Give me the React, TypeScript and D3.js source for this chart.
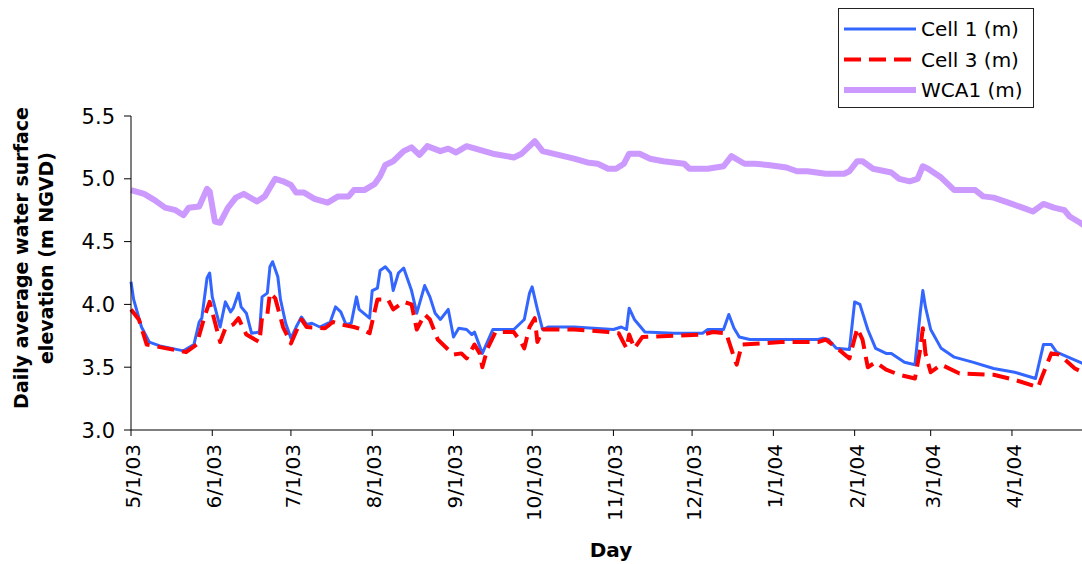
import * as d3 from "d3";

type Pt = [string, number];

// Cell 1 (m)
const cell1: Pt[] = [
  ["2003-05-01", 4.18], ["2003-05-02", 4.04], ["2003-05-05", 3.82], ["2003-05-08", 3.7],
  ["2003-05-12", 3.67], ["2003-05-21", 3.63], ["2003-05-25", 3.68], ["2003-05-27", 3.86],
  ["2003-05-28", 3.89], ["2003-05-30", 4.21], ["2003-05-31", 4.25], ["2003-06-01", 4.06],
  ["2003-06-04", 3.82], ["2003-06-06", 4.02], ["2003-06-08", 3.94], ["2003-06-09", 3.97],
  ["2003-06-11", 4.09], ["2003-06-12", 3.98], ["2003-06-14", 3.93], ["2003-06-16", 3.77],
  ["2003-06-19", 3.78], ["2003-06-20", 4.06], ["2003-06-22", 4.09], ["2003-06-23", 4.3],
  ["2003-06-24", 4.34], ["2003-06-26", 4.22], ["2003-06-27", 4.04], ["2003-06-29", 3.85],
  ["2003-07-01", 3.73], ["2003-07-03", 3.82], ["2003-07-05", 3.9], ["2003-07-07", 3.84],
  ["2003-07-09", 3.85], ["2003-07-12", 3.82], ["2003-07-16", 3.86], ["2003-07-18", 3.98],
  ["2003-07-20", 3.94], ["2003-07-22", 3.84], ["2003-07-24", 3.85], ["2003-07-26", 4.06],
  ["2003-07-27", 3.96], ["2003-07-31", 3.89], ["2003-08-01", 4.11], ["2003-08-03", 4.13],
  ["2003-08-04", 4.27], ["2003-08-06", 4.3], ["2003-08-08", 4.25], ["2003-08-09", 4.11],
  ["2003-08-11", 4.25], ["2003-08-13", 4.29], ["2003-08-16", 4.11], ["2003-08-18", 3.93],
  ["2003-08-21", 4.15], ["2003-08-23", 4.06], ["2003-08-25", 3.93], ["2003-08-27", 3.88],
  ["2003-08-30", 3.96], ["2003-09-01", 3.74], ["2003-09-03", 3.81], ["2003-09-06", 3.8],
  ["2003-09-08", 3.76], ["2003-09-09", 3.78], ["2003-09-12", 3.61], ["2003-09-16", 3.8],
  ["2003-09-24", 3.8], ["2003-09-26", 3.84], ["2003-09-28", 3.88], ["2003-09-30", 4.09],
  ["2003-10-01", 4.14], ["2003-10-03", 3.96], ["2003-10-05", 3.8], ["2003-10-07", 3.82],
  ["2003-10-17", 3.82], ["2003-11-01", 3.8], ["2003-11-04", 3.82], ["2003-11-06", 3.8],
  ["2003-11-07", 3.97], ["2003-11-09", 3.88], ["2003-11-13", 3.78], ["2003-11-24", 3.77],
  ["2003-12-05", 3.77], ["2003-12-07", 3.8], ["2003-12-13", 3.8], ["2003-12-15", 3.92],
  ["2003-12-17", 3.81], ["2003-12-19", 3.74], ["2003-12-23", 3.72], ["2004-01-04", 3.72],
  ["2004-01-18", 3.72], ["2004-01-20", 3.73], ["2004-01-22", 3.72], ["2004-01-25", 3.65],
  ["2004-01-30", 3.64], ["2004-02-01", 4.02], ["2004-02-03", 4.0], ["2004-02-06", 3.8],
  ["2004-02-09", 3.65], ["2004-02-13", 3.61], ["2004-02-15", 3.61], ["2004-02-20", 3.54],
  ["2004-02-24", 3.52], ["2004-02-26", 3.93], ["2004-02-27", 4.11], ["2004-02-28", 3.98],
  ["2004-03-01", 3.8], ["2004-03-05", 3.65], ["2004-03-10", 3.58], ["2004-03-17", 3.54],
  ["2004-03-25", 3.49], ["2004-04-02", 3.46], ["2004-04-10", 3.41], ["2004-04-13", 3.68],
  ["2004-04-16", 3.68], ["2004-04-18", 3.62], ["2004-04-28", 3.53],
];

// Cell 3 (m)
const cell3: Pt[] = [
  ["2003-05-01", 3.96], ["2003-05-04", 3.88], ["2003-05-07", 3.68], ["2003-05-12", 3.66],
  ["2003-05-22", 3.62], ["2003-05-26", 3.68], ["2003-05-29", 3.9], ["2003-05-31", 4.02],
  ["2003-06-01", 3.94], ["2003-06-04", 3.7], ["2003-06-06", 3.81], ["2003-06-09", 3.84],
  ["2003-06-11", 3.89], ["2003-06-14", 3.76], ["2003-06-19", 3.7], ["2003-06-20", 3.9],
  ["2003-06-22", 3.92], ["2003-06-23", 4.09], ["2003-06-25", 4.05], ["2003-06-28", 3.82],
  ["2003-07-01", 3.69], ["2003-07-05", 3.88], ["2003-07-07", 3.82], ["2003-07-14", 3.81],
  ["2003-07-17", 3.86], ["2003-07-20", 3.84], ["2003-07-25", 3.82], ["2003-07-28", 3.8],
  ["2003-07-31", 3.77], ["2003-08-03", 4.04], ["2003-08-07", 4.04], ["2003-08-09", 3.96],
  ["2003-08-13", 4.02], ["2003-08-16", 4.0], ["2003-08-18", 3.8], ["2003-08-21", 3.92],
  ["2003-08-23", 3.88], ["2003-08-26", 3.72], ["2003-08-30", 3.64], ["2003-09-01", 3.6],
  ["2003-09-04", 3.61], ["2003-09-06", 3.57], ["2003-09-09", 3.68], ["2003-09-11", 3.61],
  ["2003-09-12", 3.5], ["2003-09-14", 3.65], ["2003-09-17", 3.78], ["2003-09-24", 3.78],
  ["2003-09-27", 3.69], ["2003-09-28", 3.65], ["2003-09-30", 3.82], ["2003-10-02", 3.89],
  ["2003-10-03", 3.7], ["2003-10-05", 3.8], ["2003-10-17", 3.8], ["2003-10-30", 3.78],
  ["2003-11-03", 3.77], ["2003-11-06", 3.65], ["2003-11-07", 3.76], ["2003-11-09", 3.65],
  ["2003-11-12", 3.74], ["2003-11-24", 3.75], ["2003-12-05", 3.76], ["2003-12-09", 3.78],
  ["2003-12-14", 3.77], ["2003-12-17", 3.58], ["2003-12-18", 3.52], ["2003-12-20", 3.68],
  ["2004-01-04", 3.7], ["2004-01-18", 3.7], ["2004-01-21", 3.72], ["2004-01-26", 3.64],
  ["2004-01-30", 3.57], ["2004-02-02", 3.81], ["2004-02-04", 3.72], ["2004-02-06", 3.5],
  ["2004-02-09", 3.54], ["2004-02-13", 3.48], ["2004-02-18", 3.44], ["2004-02-24", 3.41],
  ["2004-02-26", 3.64], ["2004-02-27", 3.81], ["2004-02-28", 3.61], ["2004-03-01", 3.46],
  ["2004-03-05", 3.52], ["2004-03-12", 3.45], ["2004-03-25", 3.44], ["2004-04-02", 3.4],
  ["2004-04-11", 3.34], ["2004-04-12", 3.4], ["2004-04-16", 3.61], ["2004-04-19", 3.6],
  ["2004-04-25", 3.49], ["2004-04-28", 3.46],
];

// WCA1 (m)
const wca1: Pt[] = [
  ["2003-05-01", 4.91], ["2003-05-06", 4.88], ["2003-05-10", 4.83], ["2003-05-14", 4.77],
  ["2003-05-18", 4.75], ["2003-05-21", 4.71], ["2003-05-23", 4.77], ["2003-05-27", 4.78],
  ["2003-05-30", 4.92], ["2003-05-31", 4.9], ["2003-06-02", 4.66], ["2003-06-04", 4.65],
  ["2003-06-07", 4.77], ["2003-06-10", 4.85], ["2003-06-13", 4.88], ["2003-06-18", 4.82],
  ["2003-06-21", 4.86], ["2003-06-25", 5.0], ["2003-06-28", 4.98], ["2003-07-01", 4.95],
  ["2003-07-03", 4.89], ["2003-07-06", 4.89], ["2003-07-10", 4.84], ["2003-07-15", 4.81],
  ["2003-07-19", 4.86], ["2003-07-23", 4.86], ["2003-07-25", 4.91], ["2003-07-29", 4.91],
  ["2003-08-02", 4.96], ["2003-08-04", 5.02], ["2003-08-06", 5.11], ["2003-08-09", 5.14],
  ["2003-08-13", 5.22], ["2003-08-16", 5.25], ["2003-08-19", 5.19], ["2003-08-22", 5.26],
  ["2003-08-27", 5.22], ["2003-08-30", 5.24], ["2003-09-02", 5.21], ["2003-09-06", 5.26],
  ["2003-09-11", 5.23], ["2003-09-16", 5.2], ["2003-09-24", 5.17], ["2003-09-27", 5.2],
  ["2003-10-02", 5.3], ["2003-10-05", 5.22], ["2003-10-11", 5.19], ["2003-10-17", 5.16],
  ["2003-10-22", 5.13], ["2003-10-26", 5.12], ["2003-10-30", 5.08], ["2003-11-02", 5.08],
  ["2003-11-05", 5.12], ["2003-11-07", 5.2], ["2003-11-11", 5.2], ["2003-11-15", 5.16],
  ["2003-11-20", 5.14], ["2003-11-28", 5.12], ["2003-11-30", 5.08], ["2003-12-07", 5.08],
  ["2003-12-13", 5.1], ["2003-12-16", 5.18], ["2003-12-21", 5.12], ["2003-12-25", 5.12],
  ["2003-12-30", 5.11], ["2004-01-06", 5.09], ["2004-01-10", 5.06], ["2004-01-14", 5.06],
  ["2004-01-21", 5.04], ["2004-01-28", 5.04], ["2004-01-30", 5.06], ["2004-02-02", 5.14],
  ["2004-02-04", 5.14], ["2004-02-08", 5.08], ["2004-02-15", 5.05], ["2004-02-18", 5.0],
  ["2004-02-22", 4.98], ["2004-02-25", 5.0], ["2004-02-27", 5.1], ["2004-02-29", 5.08],
  ["2004-03-05", 5.01], ["2004-03-10", 4.91], ["2004-03-15", 4.91], ["2004-03-18", 4.91],
  ["2004-03-21", 4.86], ["2004-03-25", 4.85], ["2004-04-01", 4.8], ["2004-04-05", 4.77],
  ["2004-04-09", 4.74], ["2004-04-13", 4.8], ["2004-04-17", 4.77], ["2004-04-21", 4.75],
  ["2004-04-23", 4.7], ["2004-04-27", 4.65], ["2004-04-29", 4.62],
];

const yTicks = [3.0, 3.5, 4.0, 4.5, 5.0, 5.5];
const legendLabels = ["Cell 1 (m)", "Cell 3 (m)", "WCA1 (m)"];

const W = 1082;
const H = 564;
const FONT = "'DejaVu Sans', Verdana, sans-serif";

export default function App() {
  const parse = d3.timeParse("%Y-%m-%d");
  const start = parse("2003-05-01")!;
  const end = parse("2004-04-30")!;

  const x = d3.scaleTime().domain([start, end]).range([131, 1088]);
  const y = d3.scaleLinear().domain([3, 5.5]).range([430, 116]);

  const xTicks = d3.timeMonth.range(start, parse("2004-04-02")!);
  const fmtDate = d3.timeFormat("%-m/%-d/%y");

  const line = d3
    .line<Pt>()
    .x((d) => x(parse(d[0])!))
    .y((d) => y(d[1]));

  // order: blue first, red dashes on top, lavender last
  const series = [
    { data: cell1, stroke: "#3366ff", width: 3, dash: undefined as string | undefined },
    { data: cell3, stroke: "#ff0000", width: 4, dash: "17,8" },
    { data: wca1, stroke: "#cc99ff", width: 6, dash: undefined },
  ];

  return (
    <svg
      width={W}
      height={H}
      style={{ position: "absolute", left: 0, top: 0, background: "#fff" }}
      fontFamily={FONT}
    >
      <rect width={W} height={H} fill="#fff" />

      {/* series */}
      {series.map((s, i) => (
        <path
          key={i}
          d={line(s.data) ?? ""}
          fill="none"
          stroke={s.stroke}
          strokeWidth={s.width}
          strokeDasharray={s.dash}
          strokeLinejoin="round"
        />
      ))}

      {/* y axis */}
      <line x1={131} x2={131} y1={y(5.5)} y2={y(3)} stroke="#000" />
      {yTicks.map((t) => (
        <g key={t} transform={`translate(0,${y(t)})`}>
          <line x1={124} x2={131} stroke="#000" />
          <text x={115} dy="0.36em" textAnchor="end" fontSize={21} fill="#000">
            {t.toFixed(1)}
          </text>
        </g>
      ))}

      {/* x axis */}
      <line x1={131} x2={W} y1={430} y2={430} stroke="#000" />
      {xTicks.map((d, i) => (
        <g key={i} transform={`translate(${x(d)},430)`}>
          <line y1={0} y2={6} stroke="#000" />
          <text
            transform="translate(0,14) rotate(-90)"
            dy="0.45em"
            textAnchor="end"
            fontSize={20}
            fill="#000"
          >
            {fmtDate(d)}
          </text>
        </g>
      ))}

      {/* axis titles */}
      <text x={611} y={557} textAnchor="middle" fontSize={20} fontWeight="bold">
        Day
      </text>
      <text
        transform="translate(28,258) rotate(-90)"
        textAnchor="middle"
        fontSize={19}
        fontWeight="bold"
      >
        <tspan x={0} y={0}>Daily average water surface</tspan>
        <tspan x={0} y={25}>elevation (m NGVD)</tspan>
      </text>

      {/* legend */}
      <rect x={838.5} y={8.5} width={195} height={99} fill="#fff" stroke="#222" />
      {legendLabels.map((l, i) => {
        const s = series[i];
        const ly = 29 + i * 30.5;
        return (
          <g key={l}>
            <line
              x1={844}
              x2={916}
              y1={ly}
              y2={ly}
              stroke={s.stroke}
              strokeWidth={s.width}
              strokeDasharray={s.dash}
            />
            <text x={921} y={ly} dy="0.36em" fontSize={20} fill="#000">
              {l}
            </text>
          </g>
        );
      })}
    </svg>
  );
}
